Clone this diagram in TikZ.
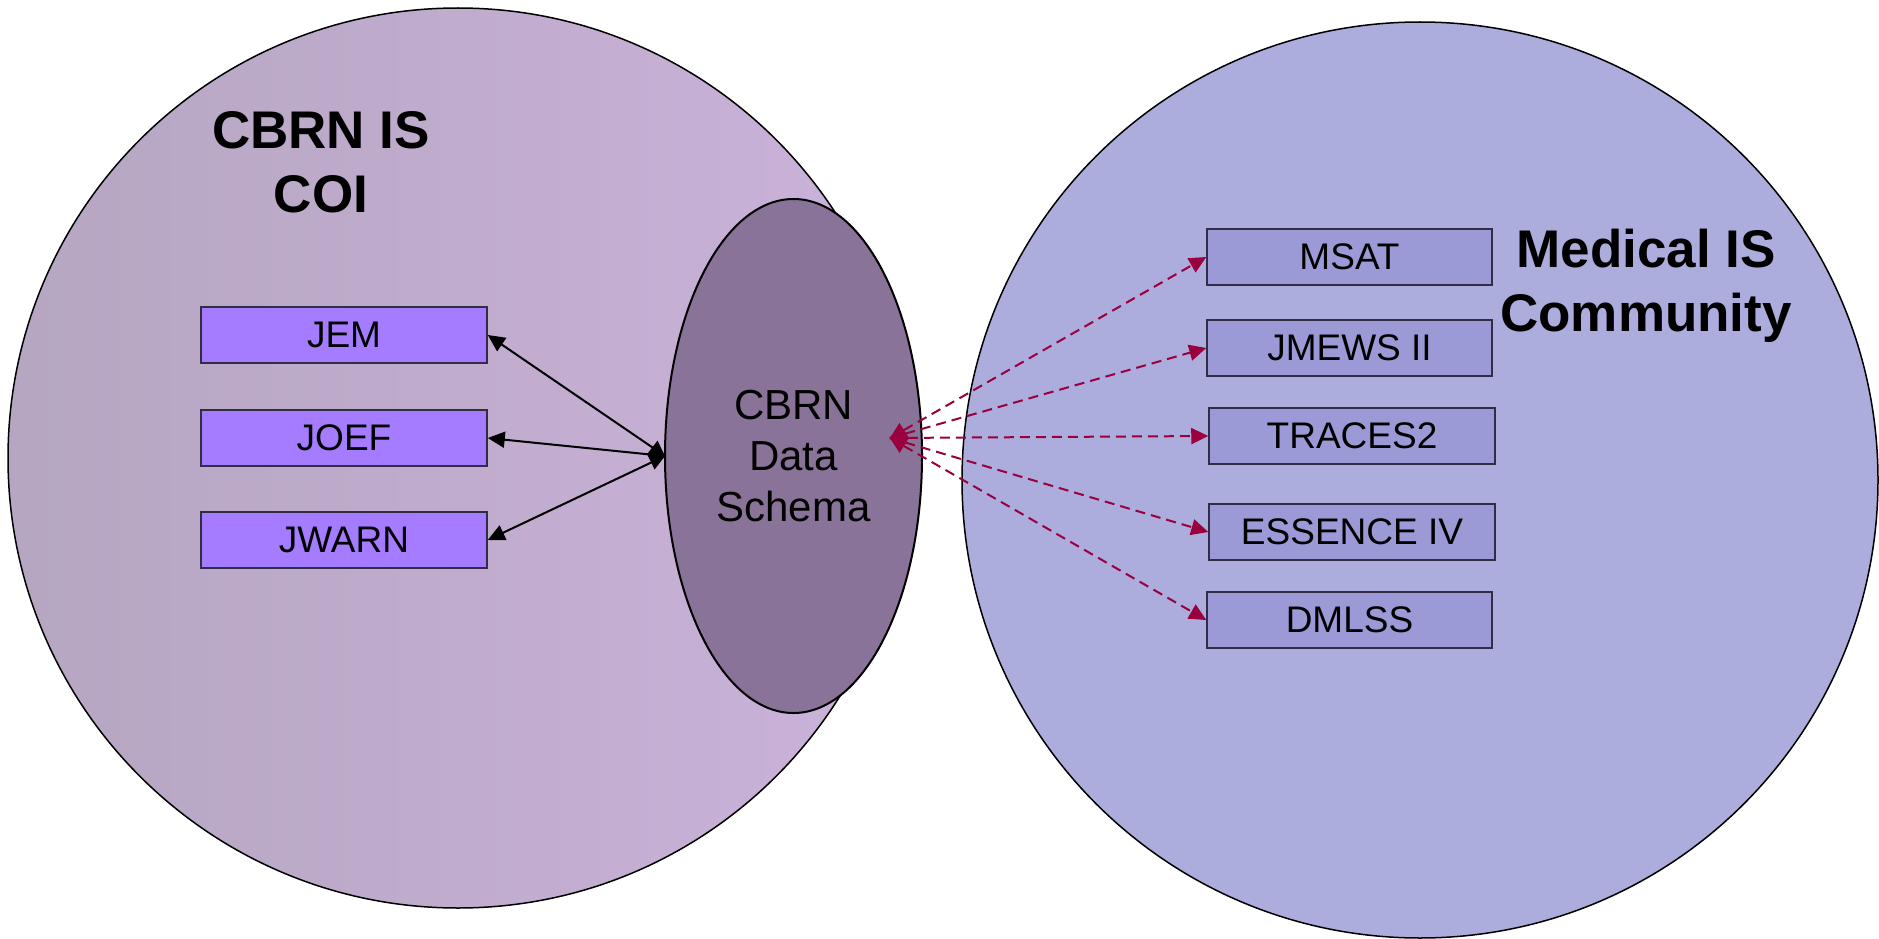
\documentclass[tikz,border=0pt]{standalone}
\usepackage{fontspec}
\setmainfont{Liberation Sans}
\usetikzlibrary{shapes.geometric,arrows.meta}
\definecolor{coiL}{RGB}{181,166,193}
\definecolor{coiR}{RGB}{203,178,218}
\definecolor{medfill}{RGB}{172,172,221}
\definecolor{schemafill}{RGB}{138,115,153}
\definecolor{lbox}{RGB}{165,123,255}
\definecolor{rbox}{RGB}{156,154,214}
\definecolor{boxline}{RGB}{50,45,70}
\definecolor{linkred}{RGB}{153,0,61}
\tikzset{
  bigcircle/.style={circle, draw=black, line width=1.5pt, inner sep=0pt},
  sysbox/.style={rectangle, draw=boxline, line width=1.5pt, minimum width=286pt, minimum height=56pt, inner sep=0pt, font=\fontsize{37}{44}\selectfont},
  title/.style={align=center, inner sep=0pt, font=\bfseries\fontsize{53}{64}\selectfont},
  blklink/.style={draw=black, line width=2pt, -{Triangle[length=17pt,width=16pt]}},
  blkhub/.style={blklink, {Diamond[length=18pt,width=29pt]}-{Triangle[length=17pt,width=16pt]}},
  redlink/.style={draw=linkred, line width=2pt, dash pattern=on 10pt off 6pt, -{Triangle[length=17pt,width=16pt,fill=linkred]}, color=linkred},
  redhub/.style={redlink, {Diamond[length=19pt,width=30pt,fill=linkred]}-{Triangle[length=17pt,width=16pt,fill=linkred]}}
}
\begin{document}
\begin{tikzpicture}[x=1pt,y=-1pt]
\useasboundingbox (0,0) rectangle (1879,939);
% communities
\node[bigcircle, minimum size=900pt, left color=coiL, right color=coiR] (coi) at (458,458) {};
\node[bigcircle, minimum size=916pt, fill=medfill] (med) at (1420,480) {};
% schema
\node[ellipse, draw=black, line width=2pt, fill=schemafill, minimum width=257pt, minimum height=514pt, inner sep=0pt, align=center, font=\fontsize{42}{51}\selectfont] (schema) at (793.5,456) {CBRN\\Data\\Schema};
% titles
\node[title] (coititle) at (321,162) {CBRN IS\\COI};
\node[title] (medtitle) at (1646,286) {Medical IS\\Community};
% CBRN systems
\node[sysbox, fill=lbox] (jem) at (344,335) {JEM};
\node[sysbox, fill=lbox] (joef) at (344,438) {JOEF};
\node[sysbox, fill=lbox] (jwarn) at (344,540) {JWARN};
% medical systems
\node[sysbox, fill=rbox, minimum width=285pt] (msat) at (1349.5,257) {MSAT};
\node[sysbox, fill=rbox, minimum width=285pt] (jmews) at (1349.5,348) {JMEWS II};
\node[sysbox, fill=rbox] (traces) at (1352,436) {TRACES2};
\node[sysbox, fill=rbox] (essence) at (1352,532) {ESSENCE IV};
\node[sysbox, fill=rbox, minimum width=285pt] (dmlss) at (1349.5,620) {DMLSS};
% connectors
\coordinate (bsrc) at (665,456);
\coordinate (rsrc) at (890,438);
\draw[blklink] (bsrc) -- (jem.east);
\draw[blklink] (bsrc) -- (jwarn.east);
\draw[blkhub] (bsrc) -- (joef.east);
\draw[redlink] (rsrc) -- (msat.west);
\draw[redlink] (rsrc) -- (jmews.west);
\draw[redlink] (rsrc) -- (essence.west);
\draw[redlink] (rsrc) -- (dmlss.west);
\draw[redhub] (rsrc) -- (traces.west);
\end{tikzpicture}
\end{document}
